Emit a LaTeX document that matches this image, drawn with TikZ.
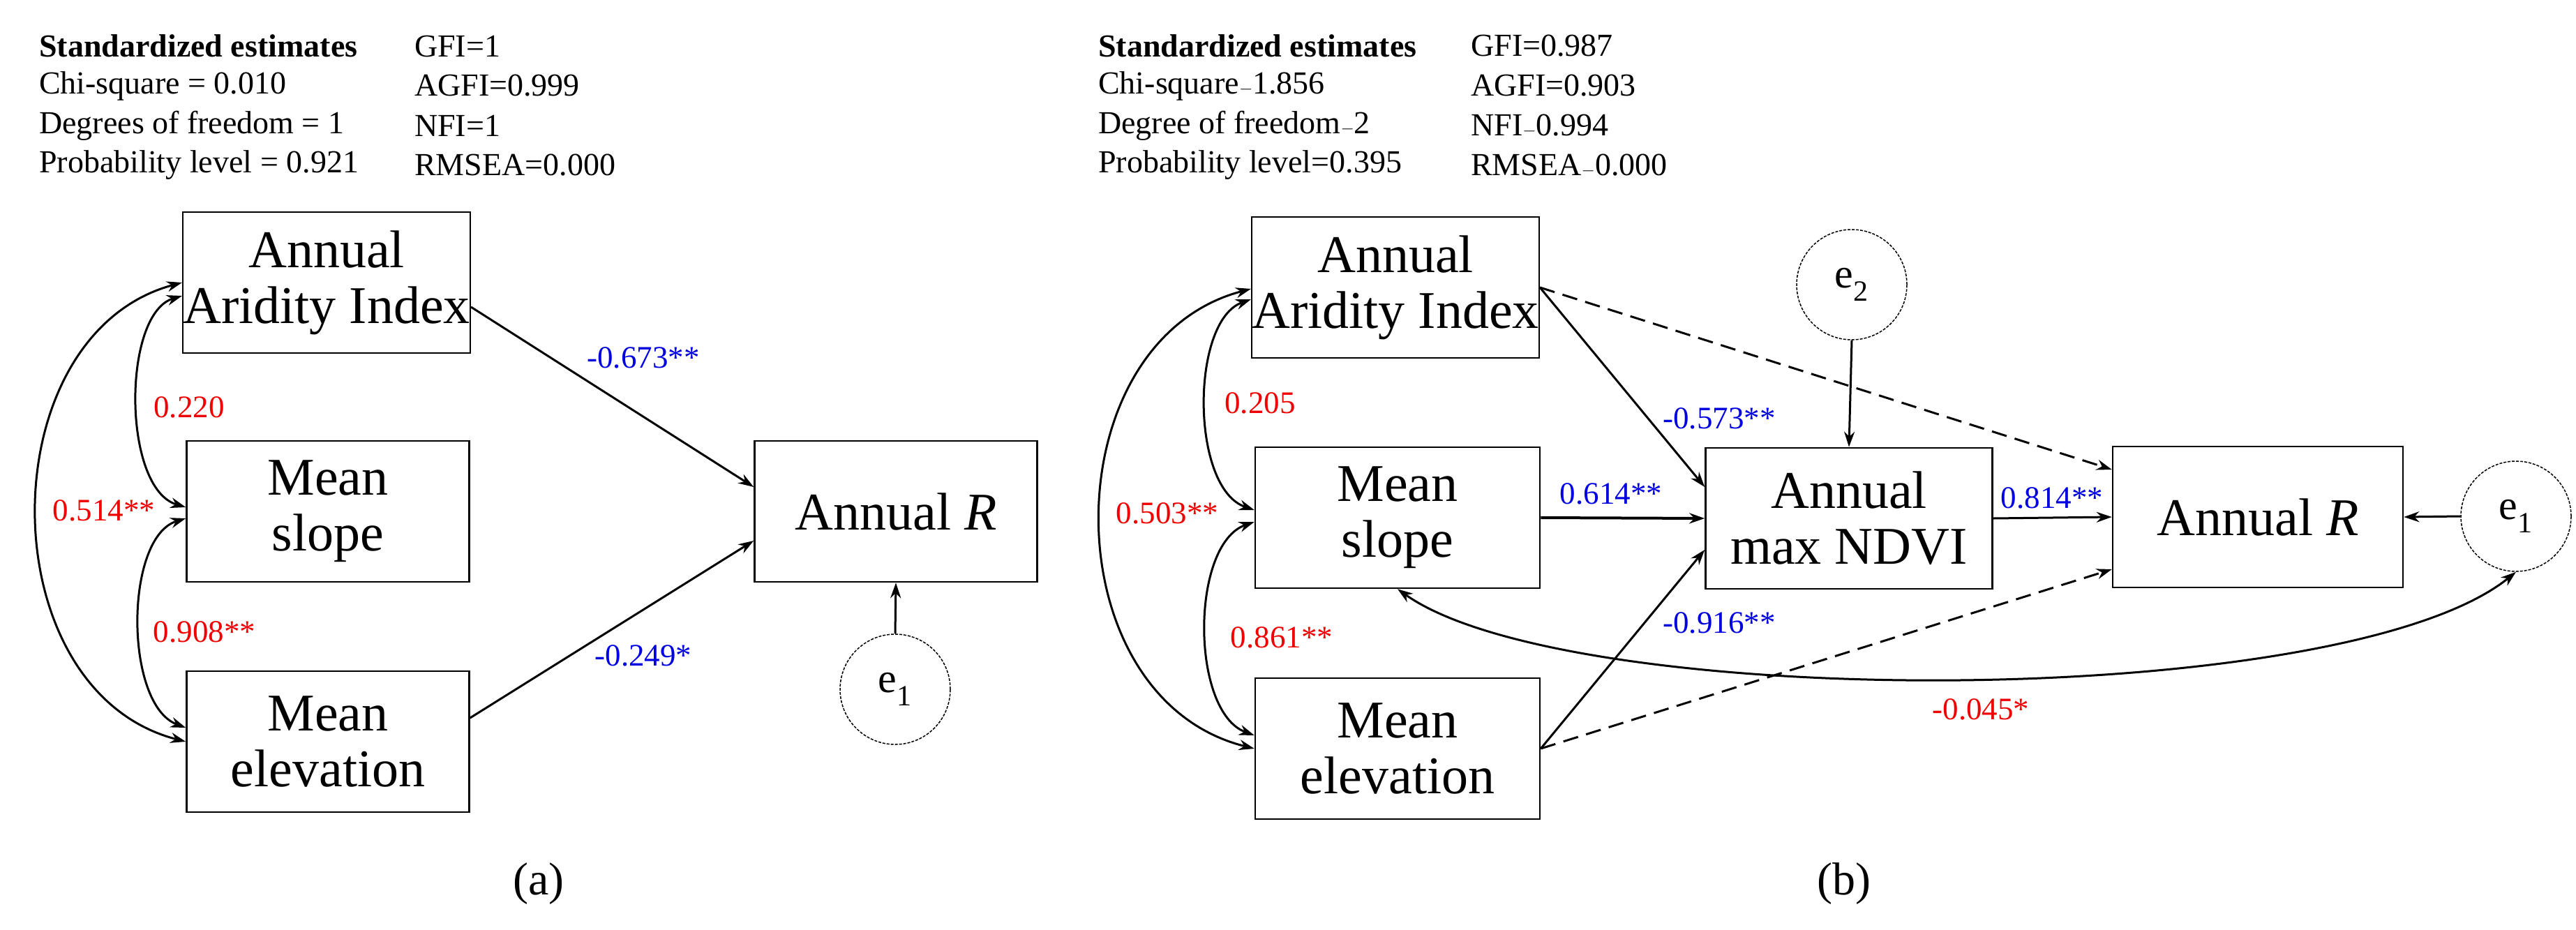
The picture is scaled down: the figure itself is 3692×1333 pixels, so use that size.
\documentclass[tikz,border=0pt]{standalone}
\usepackage{fontspec}
\setmainfont{Liberation Serif}
\usetikzlibrary{arrows.meta,calc}
\definecolor{lred}{RGB}{240,0,0}
\definecolor{lblue}{RGB}{0,0,225}
\begin{document}
\begin{tikzpicture}[x=1pt,y=-1pt,
  box/.style={draw,line width=2.5pt,rectangle,minimum width=405pt,minimum height=202pt,align=center,inner sep=0pt,font=\fontsize{76}{80}\selectfont},
  err/.style={draw,line width=1.5pt,dash pattern=on 4pt off 2pt,circle,minimum size=158pt,inner sep=0pt,font=\fontsize{60}{60}\selectfont},
  stat/.style={anchor=west,inner sep=0pt,font=\fontsize{46}{50}\selectfont},
  rl/.style={text=lred,inner sep=0pt,font=\fontsize{45}{48}\selectfont},
  bl/.style={text=lblue,inner sep=0pt,font=\fontsize{45}{48}\selectfont},
  arr/.style={line width=3pt,-{Stealth[length=22pt,width=15pt]}},
  dar/.style={arr,dash pattern=on 22pt off 12pt},
  cov/.style={line width=3pt,{Stealth[length=22pt,width=15pt]}-{Stealth[length=22pt,width=15pt]}},
  capt/.style={inner sep=0pt,font=\fontsize{66}{70}\selectfont}]
\useasboundingbox (0,0) rectangle (3692,1333);
% ---------- panel a ----------
\node[stat,font=\fontsize{46}{50}\selectfont\bfseries] (sa1) at (56,66) {Standardized estimates};
\node[stat] (sa2) at (56,123) {Chi-square = 0.010};
\node[stat] (sa3) at (56,180) {Degrees of freedom = 1};
\node[stat] (sa4) at (56,237) {Probability level = 0.921};
\node[stat] (ga1) at (594,66) {GFI=1};
\node[stat] (ga2) at (594,123) {AGFI=0.999};
\node[stat] (ga3) at (594,180) {NFI=1};
\node[stat] (ga4) at (594,237) {RMSEA=0.000};
\node[box] (AI) at (468,405) {Annual\\Aridity Index};
\node[box] (MS) at (470,733) {Mean\\slope};
\node[box] (ME) at (470,1063) {Mean\\elevation};
\node[box] (R) at (1284,733) {Annual \textit{R}};
\node[err] (e1) at (1283,988) {e\textsubscript{1}};
\draw[arr] ($(AI.east)+(0,35)$) -- ($(R.west)+(0,-35)$);
\draw[arr] ($(ME.east)+(0,-34)$) -- ($(R.west)+(0,42)$);
\draw[arr] (e1.north) -- (R.south);
\draw[cov] ($(AI.west)+(0,19)$) .. controls (175,450) and (175,700) .. ($(MS.west)+(0,-6)$);
\draw[cov] ($(MS.west)+(0,10)$) .. controls (178,770) and (178,1010) .. ($(ME.west)+(0,-20)$);
\draw[cov] (AI.west) .. controls (-17,480) and (-17,990) .. (ME.west);
\node[rl] (la1) at (271,584) {0.220};
\node[rl] (la2) at (149,732) {0.514**};
\node[rl] (la3) at (293,906) {0.908**};
\node[bl] (la4) at (922,513) {-0.673**};
\node[bl] (la5) at (922,940) {-0.249*};
\node[capt] (ca) at (772,1267) {(a)};
% ---------- panel b ----------
\node[stat,font=\fontsize{46}{50}\selectfont\bfseries] (sb1) at (1574,66) {Standardized estimates};
\node[stat] (sb2) at (1574,123) {Chi-square$-$1.856};
\node[stat] (sb3) at (1574,180) {Degree of freedom$-$2};
\node[stat] (sb4) at (1574,237) {Probability level=0.395};
\node[stat] (gb1) at (2108,66) {GFI=0.987};
\node[stat] (gb2) at (2108,123) {AGFI=0.903};
\node[stat] (gb3) at (2108,180) {NFI$-$0.994};
\node[stat] (gb4) at (2108,237) {RMSEA$-$0.000};
\node[box,minimum width=408pt] (AIb) at (2000,412) {Annual\\Aridity Index};
\node[box,minimum width=408pt] (MSb) at (2003,742) {Mean\\slope};
\node[box,minimum width=408pt] (MEb) at (2003,1073) {Mean\\elevation};
\node[box,minimum width=411pt] (N) at (2650,743) {Annual\\max NDVI};
\node[box,minimum width=416pt] (Rb) at (3236,741) {Annual \textit{R}};
\node[err] (e1b) at (3606,740) {e\textsubscript{1}};
\node[err] (e2b) at (2654,408) {e\textsubscript{2}};
\draw[dar] (AIb.east) -- ($(Rb.west)+(0,-68)$);
\draw[dar] (MEb.east) -- ($(Rb.west)+(0,75)$);
\draw[arr] (AIb.east) -- ($(N.west)+(0,-45)$);
\draw[arr,line width=4pt] (MSb.east) -- (N.west);
\draw[arr] (MEb.east) -- ($(N.west)+(0,45)$);
\draw[arr] (N.east) -- (Rb.west);
\draw[arr] (e1b.west) -- (Rb.east);
\draw[arr] (e2b.south) -- (N.north);
\draw[cov] (MSb.south) .. controls (2250,1020) and (3358,1020) .. (e1b.south);
\draw[cov] ($(AIb.west)+(0,17)$) .. controls (1706,460) and (1706,700) .. ($(MSb.west)+(0,-11)$);
\draw[cov] ($(MSb.west)+(0,6)$) .. controls (1706,780) and (1706,1020) .. ($(MEb.west)+(0,-19)$);
\draw[cov] ($(AIb.west)+(0,2)$) .. controls (1505,490) and (1505,1000) .. (MEb.west);
\node[rl] (lb1) at (1806,578) {0.205};
\node[rl] (lb2) at (1673,736) {0.503**};
\node[rl] (lb3) at (1837,914) {0.861**};
\node[bl] (lb4) at (2464,600) {-0.573**};
\node[bl] (lb5) at (2309,708) {0.614**};
\node[bl] (lb6) at (2941,714) {0.814**};
\node[bl] (lb7) at (2464,893) {-0.916**};
\node[rl] (lb8) at (2839,1017) {-0.045*};
\node[capt] (cb) at (2643,1267) {(b)};
\end{tikzpicture}
\end{document}
